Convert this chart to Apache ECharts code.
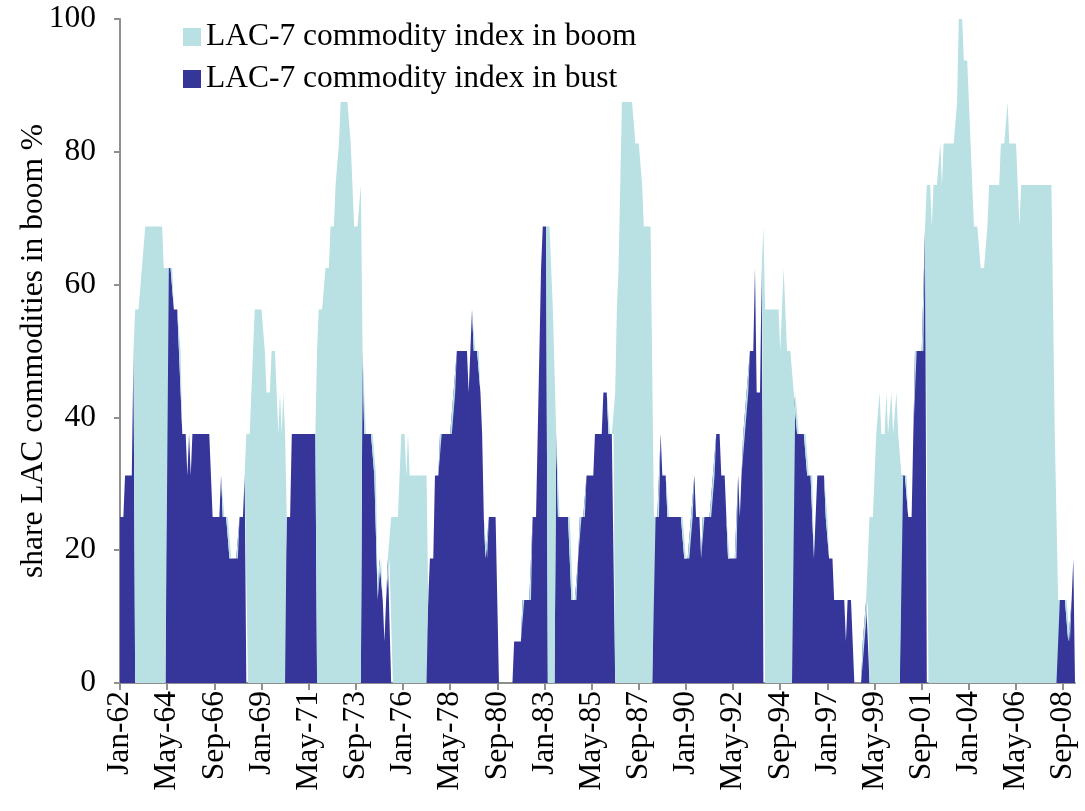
<!DOCTYPE html>
<html><head><meta charset="utf-8">
<script src="https://cdn.jsdelivr.net/npm/echarts@6/dist/echarts.min.js"></script>
<style>html,body{margin:0;padding:0;background:#fff}#c{width:1085px;height:811px}</style>
</head><body><div id="c"></div>
<script>
// Monthly share (%) of LAC-7 commodities in boom, Jan-1962 onward (one row per year)
const share = [
/*1962*/25,25,25,31.25,31.25,31.25,31.25,31.25,50,56.25,56.25,56.25,
/*1963*/56.25,62.5,62.5,68.75,68.75,68.75,68.75,68.75,68.75,68.75,68.75,68.75,
/*1964*/68.75,68.75,62.5,62.5,62.5,62.5,62.5,62.5,56.25,56.25,56.25,50,
/*1965*/50,37.5,37.5,37.5,31.25,37.5,31.25,37.5,37.5,37.5,37.5,37.5,
/*1966*/37.5,37.5,37.5,37.5,37.5,37.5,31.25,25,25,25,25,25,
/*1967*/31.25,25,25,25,25,18.75,18.75,18.75,18.75,18.75,18.75,25,
/*1968*/25,25,31.25,37.5,37.5,37.5,43.75,50,56.25,56.25,56.25,56.25,
/*1969*/56.25,56.25,50,43.75,43.75,43.75,50,50,50,43.75,37.5,43.75,
/*1970*/37.5,43.75,37.5,25,25,25,37.5,37.5,37.5,37.5,37.5,37.5,
/*1971*/37.5,37.5,37.5,37.5,37.5,37.5,37.5,37.5,37.5,50,56.25,56.25,
/*1972*/56.25,56.25,62.5,62.5,62.5,68.75,68.75,68.75,75,75,81.25,87.5,
/*1973*/87.5,87.5,87.5,87.5,87.5,81.25,75,68.75,68.75,68.75,68.75,75,
/*1974*/50,37.5,37.5,37.5,37.5,37.5,37.5,31.25,31.25,12.5,18.75,18.75,
/*1975*/12.5,6.25,12.5,18.75,18.75,25,25,25,25,25,25,37.5,
/*1976*/37.5,37.5,31.25,37.5,31.25,31.25,31.25,31.25,31.25,31.25,31.25,31.25,
/*1977*/31.25,31.25,31.25,12.5,18.75,18.75,18.75,31.25,31.25,31.25,37.5,37.5,
/*1978*/37.5,37.5,37.5,37.5,37.5,37.5,43.75,43.75,50,50,50,50,
/*1979*/50,50,50,43.75,50,56.25,50,50,50,50,43.75,37.5,
/*1980*/25,18.75,18.75,25,25,25,25,25,12.5,0,0,0,
/*1981*/0,0,0,0,0,0,6.25,6.25,6.25,6.25,6.25,12.5,
/*1982*/12.5,12.5,12.5,12.5,12.5,25,25,25,37.5,50,62.5,68.75,
/*1983*/68.75,68.75,68.75,68.75,62.5,56.25,56.25,37.5,25,25,25,25,
/*1984*/25,25,25,25,12.5,12.5,12.5,12.5,18.75,25,25,25,
/*1985*/25,31.25,31.25,31.25,31.25,31.25,37.5,37.5,37.5,37.5,37.5,43.75,
/*1986*/43.75,43.75,37.5,37.5,37.5,37.5,43.75,56.25,62.5,75,87.5,87.5,
/*1987*/87.5,87.5,87.5,87.5,87.5,87.5,81.25,81.25,81.25,81.25,75,68.75,
/*1988*/68.75,68.75,68.75,68.75,68.75,25,25,25,25,37.5,31.25,31.25,
/*1989*/31.25,25,25,25,25,25,25,25,25,25,25,18.75,
/*1990*/18.75,18.75,18.75,25,25,31.25,25,25,25,18.75,25,25,
/*1991*/25,25,25,25,31.25,31.25,37.5,37.5,37.5,31.25,31.25,31.25,
/*1992*/25,18.75,18.75,18.75,18.75,18.75,18.75,31.25,25,31.25,37.5,37.5,
/*1993*/43.75,43.75,50,50,50,62.5,43.75,43.75,43.75,62.5,68.75,56.25,
/*1994*/56.25,56.25,56.25,56.25,56.25,56.25,56.25,56.25,50,56.25,62.5,56.25,
/*1995*/50,50,50,50,43.75,43.75,37.5,37.5,37.5,37.5,37.5,37.5,
/*1996*/31.25,31.25,31.25,31.25,18.75,25,31.25,31.25,31.25,31.25,31.25,25,
/*1997*/25,18.75,18.75,18.75,12.5,12.5,12.5,12.5,12.5,12.5,12.5,6.25,
/*1998*/12.5,12.5,12.5,6.25,0,0,0,0,0,6.25,6.25,12.5,
/*1999*/12.5,25,25,25,31.25,37.5,37.5,43.75,37.5,37.5,37.5,43.75,
/*2000*/37.5,37.5,43.75,37.5,37.5,43.75,37.5,37.5,31.25,31.25,31.25,31.25,
/*2001*/25,25,25,37.5,50,50,50,50,50,50,68.75,75,
/*2002*/75,75,68.75,75,75,75,75,81.25,75,81.25,81.25,81.25,
/*2003*/81.25,81.25,81.25,81.25,81.25,87.5,100,100,100,93.75,93.75,93.75,
/*2004*/93.75,81.25,75,68.75,68.75,68.75,68.75,62.5,62.5,62.5,62.5,68.75,
/*2005*/75,75,75,75,75,75,75,81.25,81.25,81.25,81.25,87.5,
/*2006*/81.25,81.25,81.25,81.25,81.25,75,68.75,75,75,75,75,75,
/*2007*/75,75,75,75,75,75,75,75,75,75,75,75,
/*2008*/75,75,56.25,37.5,37.5,12.5,12.5,12.5,12.5,12.5,12.5,6.25,
/*2009*/6.25,12.5,18.75,18.75
];
// Regime of the LAC-7 index per month: 1 = boom, 0 = bust (one string per year)
const boomRegime = [
"000000000111","111111111111","111100000000","000000000000","000000000000",
"000000000000","000111111111","111111111111","111000000000","000000000111",
"111111111111","111111111111","000000000000","000001111111","111111111111",
"111000000000","000000000000","000000000000","000000000000","000000000000",
"000000000000","001111100000","000000000000","000000000000","000000111111",
"111111111111","111110000000","000000000000","000000000000","000000000000",
"000000000000","000000000011","111111111111","111100000000","000000000000",
"000000000000","000000000000","011111111111","111111110000","000000000001",
"111111111111","111111111111","111111111111","111111111111","111111111111",
"111111111111","111110000000","0000"
];
const firstYear = 1962;
const monthNames = ["Jan","Feb","Mar","Apr","May","Jun","Jul","Aug","Sep","Oct","Nov","Dec"];
const boomName = "LAC-7 commodity index in boom";
const bustName = "LAC-7 commodity index in bust";

const flags = boomRegime.join("").split("").map(Number);
const months = share.map((v, i) => {
  const y = firstYear + Math.floor(i / 12);
  return monthNames[i % 12] + "-" + String(y % 100).padStart(2, "0");
});
const boomData = share.map((v, i) => flags[i] === 1 ? v : 0);
const bustData = share.map((v, i) => flags[i] === 1 ? 0 : v);

const FONT = "Liberation Serif";
const FS = 31.5;
const axisGray = "#8f8f8f";
const chart = echarts.init(document.getElementById("c"), null, {renderer: "canvas"});
chart.setOption({
  animation: false,
  backgroundColor: "#fff",
  grid: {left: 120, right: 10, top: 19, bottom: 128, containLabel: false},
  legend: {
    data: [boomName, bustName],
    orient: "vertical", left: 178, top: 16,
    itemWidth: 18, itemHeight: 18, itemGap: 10, icon: "rect",
    textStyle: {fontFamily: FONT, fontSize: FS, color: "#000"}
  },
  xAxis: {
    type: "category", boundaryGap: false, data: months,
    axisLine: {lineStyle: {color: axisGray, width: 2}},
    axisTick: {interval: 27, length: 7, lineStyle: {color: axisGray, width: 2}},
    axisLabel: {interval: 27, rotate: 90, margin: 8, fontFamily: FONT, fontSize: FS, color: "#000"},
    splitLine: {show: false}
  },
  yAxis: {
    type: "value", min: 0, max: 100, interval: 20,
    name: "share LAC commodities in boom %", nameLocation: "middle", nameGap: 70,
    nameMoveOverlap: false,
    nameTextStyle: {fontFamily: FONT, fontSize: FS, color: "#000"},
    axisLine: {show: true, lineStyle: {color: axisGray, width: 2}},
    axisTick: {show: true, length: 6, lineStyle: {color: axisGray, width: 2}},
    axisLabel: {margin: 24, fontFamily: FONT, fontSize: FS, color: "#000"},
    splitLine: {show: false}
  },
  series: [
    {name: bustName, type: "line", stack: "regime", data: bustData, showSymbol: false, symbol: "none",
     color: "#35359a", lineStyle: {width: 0}, areaStyle: {color: "#35359a", opacity: 1}, emphasis: {disabled: true}},
    {name: boomName, type: "line", stack: "regime", data: boomData, showSymbol: false, symbol: "none",
     color: "#b9e0e2", lineStyle: {width: 0}, areaStyle: {color: "#b9e0e2", opacity: 1}, emphasis: {disabled: true}}
  ]
});
</script></body></html>
